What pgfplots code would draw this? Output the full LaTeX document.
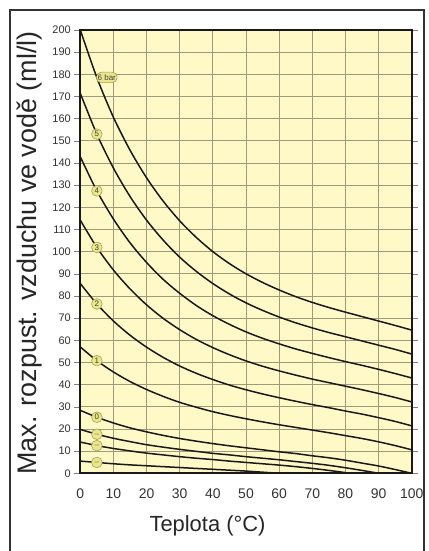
\documentclass[border=0pt]{standalone}
\usepackage{fontspec}
\setmainfont{Liberation Sans}
\usepackage{pgfplots}
\pgfplotsset{compat=1.18}
\definecolor{bgy}{RGB}{255,249,200}
\definecolor{gridc}{RGB}{160,154,120}
\definecolor{badge}{RGB}{236,230,138}
\definecolor{badgeb}{RGB}{165,160,90}
\pgfplotsset{crv/.style={black!90, solid, line width=1.5bp, no marks, smooth, tension=0.5}}
\begin{document}
\begin{tikzpicture}[x=1bp,y=1bp]
\useasboundingbox (0,0) rectangle (428,551);
\fill[white] (0,0) rectangle (428,551);
\draw[line width=1.3bp, black!80] (10,-5) -- (10,541) -- (424,541) -- (424,-5);
\begin{axis}[
  at={(80.3bp,77.7bp)}, anchor=south west, scale only axis,
  width=331.4bp, height=443.3bp,
  xmin=0, xmax=100, ymin=0, ymax=200,
  xtick={0,10,...,100}, ytick={0,10,...,200},
  grid=major, grid style={color=gridc, line width=0.8bp},
  axis line style={line width=2.2bp, black!90},
  axis background/.style={fill=bgy},
  tick align=outside, major tick length=6bp,
  ytick style={draw=gray, line width=0.6bp},
  xtick style={draw=none},
  /pgf/number format/assume math mode=true,
  yticklabel style={font=\fontsize{11}{11}\selectfont, text=black!80},
  xticklabel style={font=\fontsize{14}{14}\selectfont, text=black!80, yshift=-6bp},
]
% 6 bar
\addplot[crv] coordinates {(0,200.0)(5,178.5)(10,160.6)(15,145.8)(20,133.3)(25,122.8)(30,113.9)(35,106.4)(40,100.0)(45,94.6)(50,90.0)(55,86.1)(60,82.7)(65,79.7)(70,77.1)(75,74.8)(80,72.7)(85,70.7)(90,68.7)(95,66.7)(100,64.6)};
% 5 bar
\addplot[crv] coordinates {(0,171.4)(5,153.0)(10,137.7)(15,124.9)(20,114.2)(25,105.2)(30,97.5)(35,91.1)(40,85.6)(45,80.9)(50,76.9)(55,73.5)(60,70.5)(65,67.9)(70,65.6)(75,63.5)(80,61.6)(85,59.7)(90,57.8)(95,55.9)(100,53.8)};
% 4 bar
\addplot[crv] coordinates {(0,142.8)(5,127.4)(10,114.7)(15,104.0)(20,95.1)(25,87.5)(30,81.2)(35,75.7)(40,71.1)(45,67.2)(50,63.8)(55,60.9)(60,58.4)(65,56.1)(70,54.1)(75,52.2)(80,50.4)(85,48.7)(90,46.9)(95,45.0)(100,43.0)};
% 3 bar
\addplot[crv] coordinates {(0,114.2)(5,101.9)(10,91.7)(15,83.2)(20,76.0)(25,69.9)(30,64.8)(35,60.4)(40,56.7)(45,53.5)(50,50.7)(55,48.3)(60,46.2)(65,44.3)(70,42.5)(75,40.9)(80,39.3)(85,37.7)(90,36.0)(95,34.2)(100,32.2)};
% 2 bar
\addplot[crv] coordinates {(0,85.6)(5,76.4)(10,68.7)(15,62.3)(20,56.9)(25,52.3)(30,48.4)(35,45.1)(40,42.3)(45,39.8)(50,37.7)(55,35.8)(60,34.1)(65,32.5)(70,31.0)(75,29.6)(80,28.1)(85,26.7)(90,25.1)(95,23.4)(100,21.4)};
% 1 bar
\addplot[crv] coordinates {(0,57.0)(5,50.8)(10,45.7)(15,41.4)(20,37.8)(25,34.7)(30,32.0)(35,29.8)(40,27.8)(45,26.1)(50,24.6)(55,23.2)(60,21.9)(65,20.7)(70,19.5)(75,18.3)(80,17.0)(85,15.7)(90,14.2)(95,12.5)(100,10.6)};
% 0 bar
\addplot[crv] coordinates {(0,28.4)(5,25.3)(10,22.7)(15,20.5)(20,18.7)(25,17.1)(30,15.7)(35,14.5)(40,13.4)(45,12.4)(50,11.5)(55,10.6)(60,9.7)(65,8.9)(70,7.9)(75,7.0)(80,5.9)(85,4.6)(90,3.3)(95,1.7)(100,0.0)};
% -0.3 bar
\addplot[crv] coordinates {(0,19.8)(5,17.6)(10,15.8)(15,14.3)(20,12.9)(25,11.8)(30,10.8)(35,9.9)(40,9.0)(45,8.3)(50,7.5)(55,6.8)(60,6.1)(65,5.3)(70,4.5)(75,3.6)(80,2.5)(85,1.3)(90,0.0)};
% -0.5 bar
\addplot[crv] coordinates {(0,14.1)(5,12.5)(10,11.2)(15,10.1)(20,9.1)(25,8.3)(30,7.5)(35,6.8)(40,6.2)(45,5.5)(50,4.9)(55,4.3)(60,3.7)(65,3.0)(70,2.2)(75,1.3)(80,0.3)(81,0.0)};
% -0.8 bar
\addplot[crv] coordinates {(0,5.5)(5,4.9)(10,4.3)(15,3.8)(20,3.4)(25,3.0)(30,2.6)(35,2.2)(40,1.8)(45,1.4)(50,1.0)(55,0.5)(60,0.0)};
% curve badges
\addplot[only marks, mark=*, mark size=0.01pt, mark options={draw=none, fill=none},
  point meta=explicit symbolic, nodes near coords,
  every node near coord/.append style={anchor=center, font=\fontsize{8}{8}\selectfont, text=black!75,
    fill=badge, draw=badgeb, line width=0.6bp, rounded corners=5bp, inner sep=1.3bp, minimum size=10.5bp}]
  coordinates {(8.0,178.6)[6 bar] (5,153.0)[5] (5,127.4)[4] (5,101.9)[3] (5,76.4)[2] (5,50.8)[1] (5,25.3)[0] (5,17.6)[$-$] (5,12.5)[$-$] (5,4.9)[$-$]};
\end{axis}
\node[rotate=90, anchor=base, font=\fontsize{27}{27}\selectfont, text=black!85] at (36,298) {Max. rozpust. vzduchu ve vodě (ml/l)};
\node[anchor=base, font=\fontsize{22}{22}\selectfont, text=black!85] at (207.5,19) {Teplota (°C)};
\end{tikzpicture}
\end{document}
